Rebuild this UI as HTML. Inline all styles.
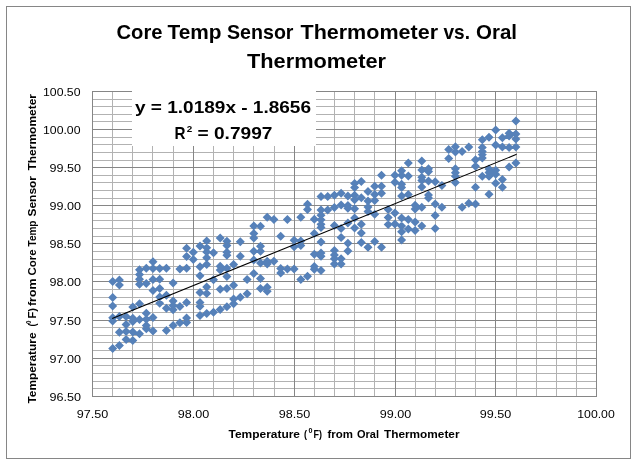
<!DOCTYPE html><html><head><meta charset="utf-8"><style>html,body{margin:0;padding:0;background:#fff;width:638px;height:464px;overflow:hidden}</style></head><body><svg width="638" height="464" viewBox="0 0 638 464" style="display:block;will-change:transform"><rect x="0" y="0" width="638" height="464" fill="#fff"/><rect x="6.5" y="6.5" width="624" height="452" fill="none" stroke="#868686" stroke-width="1"/><path d="M112.5 91V397M132.5 91V397M152.5 91V397M173.5 91V397M213.5 91V397M233.5 91V397M253.5 91V397M274.5 91V397M314.5 91V397M334.5 91V397M354.5 91V397M374.5 91V397M415.5 91V397M435.5 91V397M455.5 91V397M475.5 91V397M516.5 91V397M536.5 91V397M556.5 91V397M576.5 91V397M92 99.5H597M92 106.5H597M92 114.5H597M92 121.5H597M92 137.5H597M92 144.5H597M92 152.5H597M92 160.5H597M92 175.5H597M92 182.5H597M92 190.5H597M92 198.5H597M92 213.5H597M92 220.5H597M92 228.5H597M92 236.5H597M92 251.5H597M92 259.5H597M92 266.5H597M92 274.5H597M92 289.5H597M92 297.5H597M92 304.5H597M92 312.5H597M92 327.5H597M92 335.5H597M92 342.5H597M92 350.5H597M92 365.5H597M92 373.5H597M92 381.5H597M92 388.5H597" stroke="#b2b2b2" stroke-width="1" fill="none"/><path d="M92.5 91V397M193.5 91V397M294.5 91V397M395.5 91V397M495.5 91V397M596.5 91V397M92 91.5H597M92 129.5H597M92 167.5H597M92 205.5H597M92 243.5H597M92 281.5H597M92 320.5H597M92 358.5H597M92 396.5H597" stroke="#868686" stroke-width="1" fill="none"/><path d="M300.8 212.7l4.5 4.5l-4.5 4.5l-4.5 -4.5zM300.8 236.6l4.5 4.5l-4.5 4.5l-4.5 -4.5zM300.8 241.1l4.5 4.5l-4.5 4.5l-4.5 -4.5zM300.8 275.0l4.5 4.5l-4.5 4.5l-4.5 -4.5zM307.5 199.7l4.5 4.5l-4.5 4.5l-4.5 -4.5zM307.5 204.9l4.5 4.5l-4.5 4.5l-4.5 -4.5zM307.5 271.7l4.5 4.5l-4.5 4.5l-4.5 -4.5zM314.3 214.7l4.5 4.5l-4.5 4.5l-4.5 -4.5zM314.3 229.1l4.5 4.5l-4.5 4.5l-4.5 -4.5zM314.3 249.8l4.5 4.5l-4.5 4.5l-4.5 -4.5zM314.3 262.1l4.5 4.5l-4.5 4.5l-4.5 -4.5zM314.3 264.7l4.5 4.5l-4.5 4.5l-4.5 -4.5zM321.0 192.0l4.5 4.5l-4.5 4.5l-4.5 -4.5zM321.0 205.6l4.5 4.5l-4.5 4.5l-4.5 -4.5zM321.0 210.8l4.5 4.5l-4.5 4.5l-4.5 -4.5zM321.0 215.3l4.5 4.5l-4.5 4.5l-4.5 -4.5zM321.0 219.8l4.5 4.5l-4.5 4.5l-4.5 -4.5zM321.0 223.1l4.5 4.5l-4.5 4.5l-4.5 -4.5zM321.0 237.5l4.5 4.5l-4.5 4.5l-4.5 -4.5zM321.0 248.5l4.5 4.5l-4.5 4.5l-4.5 -4.5zM321.0 251.7l4.5 4.5l-4.5 4.5l-4.5 -4.5zM321.0 266.0l4.5 4.5l-4.5 4.5l-4.5 -4.5zM327.7 192.0l4.5 4.5l-4.5 4.5l-4.5 -4.5zM327.7 205.6l4.5 4.5l-4.5 4.5l-4.5 -4.5zM334.4 190.7l4.5 4.5l-4.5 4.5l-4.5 -4.5zM334.4 203.0l4.5 4.5l-4.5 4.5l-4.5 -4.5zM334.4 221.1l4.5 4.5l-4.5 4.5l-4.5 -4.5zM334.4 245.9l4.5 4.5l-4.5 4.5l-4.5 -4.5zM334.4 250.4l4.5 4.5l-4.5 4.5l-4.5 -4.5zM334.4 254.3l4.5 4.5l-4.5 4.5l-4.5 -4.5zM334.4 259.5l4.5 4.5l-4.5 4.5l-4.5 -4.5zM341.1 188.8l4.5 4.5l-4.5 4.5l-4.5 -4.5zM341.1 200.4l4.5 4.5l-4.5 4.5l-4.5 -4.5zM341.1 223.9l4.5 4.5l-4.5 4.5l-4.5 -4.5zM341.1 233.0l4.5 4.5l-4.5 4.5l-4.5 -4.5zM341.1 254.3l4.5 4.5l-4.5 4.5l-4.5 -4.5zM341.1 259.5l4.5 4.5l-4.5 4.5l-4.5 -4.5zM347.9 191.4l4.5 4.5l-4.5 4.5l-4.5 -4.5zM347.9 201.1l4.5 4.5l-4.5 4.5l-4.5 -4.5zM347.9 203.7l4.5 4.5l-4.5 4.5l-4.5 -4.5zM347.9 218.5l4.5 4.5l-4.5 4.5l-4.5 -4.5zM347.9 238.8l4.5 4.5l-4.5 4.5l-4.5 -4.5zM347.9 246.5l4.5 4.5l-4.5 4.5l-4.5 -4.5zM354.6 179.1l4.5 4.5l-4.5 4.5l-4.5 -4.5zM354.6 190.7l4.5 4.5l-4.5 4.5l-4.5 -4.5zM354.6 195.3l4.5 4.5l-4.5 4.5l-4.5 -4.5zM354.6 204.3l4.5 4.5l-4.5 4.5l-4.5 -4.5zM354.6 213.4l4.5 4.5l-4.5 4.5l-4.5 -4.5zM354.6 223.4l4.5 4.5l-4.5 4.5l-4.5 -4.5zM361.3 177.1l4.5 4.5l-4.5 4.5l-4.5 -4.5zM361.3 193.3l4.5 4.5l-4.5 4.5l-4.5 -4.5zM361.3 219.8l4.5 4.5l-4.5 4.5l-4.5 -4.5zM361.3 228.5l4.5 4.5l-4.5 4.5l-4.5 -4.5zM361.3 238.1l4.5 4.5l-4.5 4.5l-4.5 -4.5zM368.0 186.9l4.5 4.5l-4.5 4.5l-4.5 -4.5zM368.0 196.6l4.5 4.5l-4.5 4.5l-4.5 -4.5zM368.0 202.4l4.5 4.5l-4.5 4.5l-4.5 -4.5zM368.0 207.1l4.5 4.5l-4.5 4.5l-4.5 -4.5zM368.0 242.7l4.5 4.5l-4.5 4.5l-4.5 -4.5zM374.7 181.7l4.5 4.5l-4.5 4.5l-4.5 -4.5zM374.7 190.1l4.5 4.5l-4.5 4.5l-4.5 -4.5zM374.7 196.0l4.5 4.5l-4.5 4.5l-4.5 -4.5zM374.7 209.7l4.5 4.5l-4.5 4.5l-4.5 -4.5zM374.7 236.9l4.5 4.5l-4.5 4.5l-4.5 -4.5zM381.5 170.7l4.5 4.5l-4.5 4.5l-4.5 -4.5zM381.5 181.7l4.5 4.5l-4.5 4.5l-4.5 -4.5zM381.5 188.8l4.5 4.5l-4.5 4.5l-4.5 -4.5zM381.5 242.7l4.5 4.5l-4.5 4.5l-4.5 -4.5zM388.2 204.9l4.5 4.5l-4.5 4.5l-4.5 -4.5zM388.2 213.0l4.5 4.5l-4.5 4.5l-4.5 -4.5zM388.2 220.1l4.5 4.5l-4.5 4.5l-4.5 -4.5zM394.9 170.7l4.5 4.5l-4.5 4.5l-4.5 -4.5zM394.9 177.8l4.5 4.5l-4.5 4.5l-4.5 -4.5zM394.9 208.4l4.5 4.5l-4.5 4.5l-4.5 -4.5zM394.9 219.4l4.5 4.5l-4.5 4.5l-4.5 -4.5zM401.6 166.2l4.5 4.5l-4.5 4.5l-4.5 -4.5zM401.6 170.7l4.5 4.5l-4.5 4.5l-4.5 -4.5zM401.6 179.8l4.5 4.5l-4.5 4.5l-4.5 -4.5zM401.6 183.0l4.5 4.5l-4.5 4.5l-4.5 -4.5zM401.6 191.4l4.5 4.5l-4.5 4.5l-4.5 -4.5zM401.6 213.6l4.5 4.5l-4.5 4.5l-4.5 -4.5zM401.6 221.4l4.5 4.5l-4.5 4.5l-4.5 -4.5zM401.6 227.2l4.5 4.5l-4.5 4.5l-4.5 -4.5zM401.6 235.6l4.5 4.5l-4.5 4.5l-4.5 -4.5zM408.3 158.4l4.5 4.5l-4.5 4.5l-4.5 -4.5zM408.3 171.4l4.5 4.5l-4.5 4.5l-4.5 -4.5zM408.3 190.1l4.5 4.5l-4.5 4.5l-4.5 -4.5zM408.3 214.9l4.5 4.5l-4.5 4.5l-4.5 -4.5zM408.3 224.6l4.5 4.5l-4.5 4.5l-4.5 -4.5zM415.1 200.7l4.5 4.5l-4.5 4.5l-4.5 -4.5zM415.1 204.6l4.5 4.5l-4.5 4.5l-4.5 -4.5zM415.1 217.5l4.5 4.5l-4.5 4.5l-4.5 -4.5zM415.1 226.0l4.5 4.5l-4.5 4.5l-4.5 -4.5zM421.8 156.5l4.5 4.5l-4.5 4.5l-4.5 -4.5zM421.8 165.6l4.5 4.5l-4.5 4.5l-4.5 -4.5zM421.8 172.7l4.5 4.5l-4.5 4.5l-4.5 -4.5zM421.8 176.0l4.5 4.5l-4.5 4.5l-4.5 -4.5zM421.8 182.4l4.5 4.5l-4.5 4.5l-4.5 -4.5zM421.8 202.7l4.5 4.5l-4.5 4.5l-4.5 -4.5zM421.8 221.4l4.5 4.5l-4.5 4.5l-4.5 -4.5zM428.5 164.3l4.5 4.5l-4.5 4.5l-4.5 -4.5zM428.5 166.9l4.5 4.5l-4.5 4.5l-4.5 -4.5zM428.5 176.6l4.5 4.5l-4.5 4.5l-4.5 -4.5zM428.5 190.4l4.5 4.5l-4.5 4.5l-4.5 -4.5zM428.5 193.6l4.5 4.5l-4.5 4.5l-4.5 -4.5zM435.2 177.2l4.5 4.5l-4.5 4.5l-4.5 -4.5zM435.2 199.4l4.5 4.5l-4.5 4.5l-4.5 -4.5zM435.2 211.1l4.5 4.5l-4.5 4.5l-4.5 -4.5zM435.2 224.0l4.5 4.5l-4.5 4.5l-4.5 -4.5zM441.9 181.1l4.5 4.5l-4.5 4.5l-4.5 -4.5zM441.9 202.7l4.5 4.5l-4.5 4.5l-4.5 -4.5zM448.7 144.9l4.5 4.5l-4.5 4.5l-4.5 -4.5zM448.7 154.0l4.5 4.5l-4.5 4.5l-4.5 -4.5zM455.4 142.3l4.5 4.5l-4.5 4.5l-4.5 -4.5zM455.4 147.5l4.5 4.5l-4.5 4.5l-4.5 -4.5zM455.4 164.3l4.5 4.5l-4.5 4.5l-4.5 -4.5zM455.4 168.2l4.5 4.5l-4.5 4.5l-4.5 -4.5zM455.4 171.8l4.5 4.5l-4.5 4.5l-4.5 -4.5zM455.4 177.9l4.5 4.5l-4.5 4.5l-4.5 -4.5zM462.1 146.9l4.5 4.5l-4.5 4.5l-4.5 -4.5zM462.1 202.7l4.5 4.5l-4.5 4.5l-4.5 -4.5zM468.8 142.4l4.5 4.5l-4.5 4.5l-4.5 -4.5zM468.8 198.8l4.5 4.5l-4.5 4.5l-4.5 -4.5zM475.5 155.3l4.5 4.5l-4.5 4.5l-4.5 -4.5zM475.5 161.8l4.5 4.5l-4.5 4.5l-4.5 -4.5zM475.5 182.7l4.5 4.5l-4.5 4.5l-4.5 -4.5zM475.5 199.5l4.5 4.5l-4.5 4.5l-4.5 -4.5zM482.3 135.3l4.5 4.5l-4.5 4.5l-4.5 -4.5zM482.3 143.0l4.5 4.5l-4.5 4.5l-4.5 -4.5zM482.3 146.9l4.5 4.5l-4.5 4.5l-4.5 -4.5zM482.3 150.1l4.5 4.5l-4.5 4.5l-4.5 -4.5zM482.3 153.4l4.5 4.5l-4.5 4.5l-4.5 -4.5zM482.3 171.7l4.5 4.5l-4.5 4.5l-4.5 -4.5zM489.0 132.7l4.5 4.5l-4.5 4.5l-4.5 -4.5zM489.0 164.6l4.5 4.5l-4.5 4.5l-4.5 -4.5zM489.0 171.7l4.5 4.5l-4.5 4.5l-4.5 -4.5zM489.0 189.8l4.5 4.5l-4.5 4.5l-4.5 -4.5zM495.7 125.5l4.5 4.5l-4.5 4.5l-4.5 -4.5zM495.7 140.4l4.5 4.5l-4.5 4.5l-4.5 -4.5zM495.7 165.8l4.5 4.5l-4.5 4.5l-4.5 -4.5zM495.7 169.7l4.5 4.5l-4.5 4.5l-4.5 -4.5zM495.7 178.8l4.5 4.5l-4.5 4.5l-4.5 -4.5zM502.4 133.3l4.5 4.5l-4.5 4.5l-4.5 -4.5zM502.4 142.4l4.5 4.5l-4.5 4.5l-4.5 -4.5zM502.4 174.9l4.5 4.5l-4.5 4.5l-4.5 -4.5zM502.4 182.7l4.5 4.5l-4.5 4.5l-4.5 -4.5zM509.1 128.8l4.5 4.5l-4.5 4.5l-4.5 -4.5zM509.1 131.4l4.5 4.5l-4.5 4.5l-4.5 -4.5zM509.1 143.0l4.5 4.5l-4.5 4.5l-4.5 -4.5zM509.1 162.4l4.5 4.5l-4.5 4.5l-4.5 -4.5zM515.9 116.5l4.5 4.5l-4.5 4.5l-4.5 -4.5zM515.9 129.4l4.5 4.5l-4.5 4.5l-4.5 -4.5zM515.9 134.6l4.5 4.5l-4.5 4.5l-4.5 -4.5zM515.9 142.4l4.5 4.5l-4.5 4.5l-4.5 -4.5zM515.9 158.5l4.5 4.5l-4.5 4.5l-4.5 -4.5zM139.5 265.2l4.5 4.5l-4.5 4.5l-4.5 -4.5zM139.5 270.0l4.5 4.5l-4.5 4.5l-4.5 -4.5zM139.5 274.7l4.5 4.5l-4.5 4.5l-4.5 -4.5zM139.5 279.8l4.5 4.5l-4.5 4.5l-4.5 -4.5zM146.3 263.7l4.5 4.5l-4.5 4.5l-4.5 -4.5zM146.3 279.1l4.5 4.5l-4.5 4.5l-4.5 -4.5zM153.0 257.3l4.5 4.5l-4.5 4.5l-4.5 -4.5zM153.0 264.1l4.5 4.5l-4.5 4.5l-4.5 -4.5zM153.0 275.1l4.5 4.5l-4.5 4.5l-4.5 -4.5zM153.0 286.1l4.5 4.5l-4.5 4.5l-4.5 -4.5zM159.7 264.1l4.5 4.5l-4.5 4.5l-4.5 -4.5zM159.7 274.7l4.5 4.5l-4.5 4.5l-4.5 -4.5zM159.7 283.9l4.5 4.5l-4.5 4.5l-4.5 -4.5zM166.4 263.7l4.5 4.5l-4.5 4.5l-4.5 -4.5zM173.1 278.4l4.5 4.5l-4.5 4.5l-4.5 -4.5zM112.7 292.9l4.5 4.5l-4.5 4.5l-4.5 -4.5zM112.7 301.5l4.5 4.5l-4.5 4.5l-4.5 -4.5zM112.7 313.3l4.5 4.5l-4.5 4.5l-4.5 -4.5zM112.7 316.5l4.5 4.5l-4.5 4.5l-4.5 -4.5zM119.4 312.0l4.5 4.5l-4.5 4.5l-4.5 -4.5zM132.8 302.5l4.5 4.5l-4.5 4.5l-4.5 -4.5zM139.5 299.3l4.5 4.5l-4.5 4.5l-4.5 -4.5zM126.1 312.0l4.5 4.5l-4.5 4.5l-4.5 -4.5zM132.8 313.8l4.5 4.5l-4.5 4.5l-4.5 -4.5zM132.8 316.9l4.5 4.5l-4.5 4.5l-4.5 -4.5zM139.5 315.1l4.5 4.5l-4.5 4.5l-4.5 -4.5zM126.1 320.1l4.5 4.5l-4.5 4.5l-4.5 -4.5zM119.4 327.8l4.5 4.5l-4.5 4.5l-4.5 -4.5zM126.1 326.9l4.5 4.5l-4.5 4.5l-4.5 -4.5zM132.8 327.4l4.5 4.5l-4.5 4.5l-4.5 -4.5zM139.5 329.2l4.5 4.5l-4.5 4.5l-4.5 -4.5zM126.1 335.1l4.5 4.5l-4.5 4.5l-4.5 -4.5zM132.8 336.0l4.5 4.5l-4.5 4.5l-4.5 -4.5zM119.4 341.0l4.5 4.5l-4.5 4.5l-4.5 -4.5zM112.7 344.1l4.5 4.5l-4.5 4.5l-4.5 -4.5zM159.7 292.5l4.5 4.5l-4.5 4.5l-4.5 -4.5zM166.4 290.7l4.5 4.5l-4.5 4.5l-4.5 -4.5zM159.7 298.8l4.5 4.5l-4.5 4.5l-4.5 -4.5zM173.1 296.5l4.5 4.5l-4.5 4.5l-4.5 -4.5zM166.4 303.8l4.5 4.5l-4.5 4.5l-4.5 -4.5zM173.1 301.1l4.5 4.5l-4.5 4.5l-4.5 -4.5zM173.1 305.2l4.5 4.5l-4.5 4.5l-4.5 -4.5zM179.9 302.0l4.5 4.5l-4.5 4.5l-4.5 -4.5zM146.3 308.8l4.5 4.5l-4.5 4.5l-4.5 -4.5zM153.0 312.9l4.5 4.5l-4.5 4.5l-4.5 -4.5zM146.3 314.7l4.5 4.5l-4.5 4.5l-4.5 -4.5zM146.3 321.0l4.5 4.5l-4.5 4.5l-4.5 -4.5zM173.1 321.0l4.5 4.5l-4.5 4.5l-4.5 -4.5zM179.9 318.3l4.5 4.5l-4.5 4.5l-4.5 -4.5zM146.3 324.3l4.5 4.5l-4.5 4.5l-4.5 -4.5zM153.0 326.5l4.5 4.5l-4.5 4.5l-4.5 -4.5zM166.4 326.1l4.5 4.5l-4.5 4.5l-4.5 -4.5zM112.7 276.9l4.5 4.5l-4.5 4.5l-4.5 -4.5zM119.4 275.5l4.5 4.5l-4.5 4.5l-4.5 -4.5zM119.4 280.5l4.5 4.5l-4.5 4.5l-4.5 -4.5zM186.6 243.7l4.5 4.5l-4.5 4.5l-4.5 -4.5zM186.6 251.9l4.5 4.5l-4.5 4.5l-4.5 -4.5zM193.3 247.8l4.5 4.5l-4.5 4.5l-4.5 -4.5zM193.3 255.1l4.5 4.5l-4.5 4.5l-4.5 -4.5zM179.9 264.6l4.5 4.5l-4.5 4.5l-4.5 -4.5zM186.6 263.7l4.5 4.5l-4.5 4.5l-4.5 -4.5zM200.0 241.5l4.5 4.5l-4.5 4.5l-4.5 -4.5zM206.7 236.5l4.5 4.5l-4.5 4.5l-4.5 -4.5zM206.7 243.3l4.5 4.5l-4.5 4.5l-4.5 -4.5zM206.7 247.4l4.5 4.5l-4.5 4.5l-4.5 -4.5zM206.7 253.2l4.5 4.5l-4.5 4.5l-4.5 -4.5zM213.5 248.3l4.5 4.5l-4.5 4.5l-4.5 -4.5zM200.0 262.3l4.5 4.5l-4.5 4.5l-4.5 -4.5zM206.7 260.0l4.5 4.5l-4.5 4.5l-4.5 -4.5zM200.0 271.2l4.5 4.5l-4.5 4.5l-4.5 -4.5zM213.5 275.3l4.5 4.5l-4.5 4.5l-4.5 -4.5zM206.7 282.5l4.5 4.5l-4.5 4.5l-4.5 -4.5zM200.0 288.0l4.5 4.5l-4.5 4.5l-4.5 -4.5zM206.7 288.9l4.5 4.5l-4.5 4.5l-4.5 -4.5zM186.6 297.9l4.5 4.5l-4.5 4.5l-4.5 -4.5zM200.0 297.9l4.5 4.5l-4.5 4.5l-4.5 -4.5zM200.0 301.8l4.5 4.5l-4.5 4.5l-4.5 -4.5zM200.0 310.9l4.5 4.5l-4.5 4.5l-4.5 -4.5zM206.7 309.1l4.5 4.5l-4.5 4.5l-4.5 -4.5zM213.5 307.7l4.5 4.5l-4.5 4.5l-4.5 -4.5zM186.6 313.6l4.5 4.5l-4.5 4.5l-4.5 -4.5zM186.6 318.1l4.5 4.5l-4.5 4.5l-4.5 -4.5zM220.2 233.6l4.5 4.5l-4.5 4.5l-4.5 -4.5zM226.9 236.8l4.5 4.5l-4.5 4.5l-4.5 -4.5zM226.9 240.9l4.5 4.5l-4.5 4.5l-4.5 -4.5zM226.9 247.7l4.5 4.5l-4.5 4.5l-4.5 -4.5zM226.9 250.8l4.5 4.5l-4.5 4.5l-4.5 -4.5zM240.3 237.2l4.5 4.5l-4.5 4.5l-4.5 -4.5zM240.3 251.7l4.5 4.5l-4.5 4.5l-4.5 -4.5zM253.8 221.4l4.5 4.5l-4.5 4.5l-4.5 -4.5zM253.8 229.1l4.5 4.5l-4.5 4.5l-4.5 -4.5zM253.8 233.6l4.5 4.5l-4.5 4.5l-4.5 -4.5zM253.8 246.8l4.5 4.5l-4.5 4.5l-4.5 -4.5zM220.2 261.7l4.5 4.5l-4.5 4.5l-4.5 -4.5zM226.9 263.8l4.5 4.5l-4.5 4.5l-4.5 -4.5zM220.2 265.5l4.5 4.5l-4.5 4.5l-4.5 -4.5zM233.6 259.9l4.5 4.5l-4.5 4.5l-4.5 -4.5zM226.9 272.1l4.5 4.5l-4.5 4.5l-4.5 -4.5zM253.8 269.0l4.5 4.5l-4.5 4.5l-4.5 -4.5zM247.1 274.9l4.5 4.5l-4.5 4.5l-4.5 -4.5zM253.8 255.5l4.5 4.5l-4.5 4.5l-4.5 -4.5zM233.6 280.8l4.5 4.5l-4.5 4.5l-4.5 -4.5zM220.2 284.8l4.5 4.5l-4.5 4.5l-4.5 -4.5zM226.9 283.9l4.5 4.5l-4.5 4.5l-4.5 -4.5zM247.1 289.2l4.5 4.5l-4.5 4.5l-4.5 -4.5zM240.3 292.8l4.5 4.5l-4.5 4.5l-4.5 -4.5zM233.6 294.6l4.5 4.5l-4.5 4.5l-4.5 -4.5zM233.6 299.2l4.5 4.5l-4.5 4.5l-4.5 -4.5zM226.9 302.3l4.5 4.5l-4.5 4.5l-4.5 -4.5zM220.2 305.0l4.5 4.5l-4.5 4.5l-4.5 -4.5zM267.2 212.7l4.5 4.5l-4.5 4.5l-4.5 -4.5zM273.9 215.0l4.5 4.5l-4.5 4.5l-4.5 -4.5zM287.4 215.0l4.5 4.5l-4.5 4.5l-4.5 -4.5zM260.5 221.8l4.5 4.5l-4.5 4.5l-4.5 -4.5zM280.7 231.7l4.5 4.5l-4.5 4.5l-4.5 -4.5zM260.5 241.7l4.5 4.5l-4.5 4.5l-4.5 -4.5zM260.5 246.7l4.5 4.5l-4.5 4.5l-4.5 -4.5zM294.1 235.8l4.5 4.5l-4.5 4.5l-4.5 -4.5zM294.1 242.2l4.5 4.5l-4.5 4.5l-4.5 -4.5zM260.5 258.5l4.5 4.5l-4.5 4.5l-4.5 -4.5zM267.2 256.7l4.5 4.5l-4.5 4.5l-4.5 -4.5zM267.2 259.4l4.5 4.5l-4.5 4.5l-4.5 -4.5zM273.9 256.7l4.5 4.5l-4.5 4.5l-4.5 -4.5zM280.7 263.9l4.5 4.5l-4.5 4.5l-4.5 -4.5zM280.7 268.5l4.5 4.5l-4.5 4.5l-4.5 -4.5zM287.4 264.4l4.5 4.5l-4.5 4.5l-4.5 -4.5zM294.1 264.4l4.5 4.5l-4.5 4.5l-4.5 -4.5zM260.5 274.1l4.5 4.5l-4.5 4.5l-4.5 -4.5zM260.5 284.1l4.5 4.5l-4.5 4.5l-4.5 -4.5zM267.2 282.7l4.5 4.5l-4.5 4.5l-4.5 -4.5zM267.2 286.8l4.5 4.5l-4.5 4.5l-4.5 -4.5zM354.6 183.1l4.5 4.5l-4.5 4.5l-4.5 -4.5zM489.0 168.0l4.5 4.5l-4.5 4.5l-4.5 -4.5z" fill="#5681b9"/><line x1="112.2" y1="318.5" x2="516.6" y2="154.3" stroke="#000" stroke-width="1.1"/><rect x="132" y="88" width="184" height="58" fill="#fff"/><text font-family="Liberation Sans, sans-serif" font-weight="bold" font-size="17" x="135" y="113" textLength="176" lengthAdjust="spacingAndGlyphs">y = 1.0189x - 1.8656</text><text font-family="Liberation Sans, sans-serif" font-weight="bold" font-size="17" x="174.5" y="139" textLength="11" lengthAdjust="spacingAndGlyphs">R</text><text font-family="Liberation Sans, sans-serif" font-weight="bold" font-size="9" x="186.8" y="131.5" textLength="5.5" lengthAdjust="spacingAndGlyphs">2</text><text font-family="Liberation Sans, sans-serif" font-weight="bold" font-size="17" x="197.5" y="139" textLength="75" lengthAdjust="spacingAndGlyphs">= 0.7997</text><text font-family="Liberation Sans, sans-serif" font-weight="bold" font-size="21" x="116.5" y="39" textLength="46.0" lengthAdjust="spacingAndGlyphs">Core</text><text font-family="Liberation Sans, sans-serif" font-weight="bold" font-size="21" x="167.5" y="39" textLength="54.0" lengthAdjust="spacingAndGlyphs">Temp</text><text font-family="Liberation Sans, sans-serif" font-weight="bold" font-size="21" x="227.0" y="39" textLength="66.5" lengthAdjust="spacingAndGlyphs">Sensor</text><text font-family="Liberation Sans, sans-serif" font-weight="bold" font-size="21" x="300.5" y="39" textLength="137.5" lengthAdjust="spacingAndGlyphs">Thermometer</text><text font-family="Liberation Sans, sans-serif" font-weight="bold" font-size="21" x="443.5" y="39" textLength="26.5" lengthAdjust="spacingAndGlyphs">vs.</text><text font-family="Liberation Sans, sans-serif" font-weight="bold" font-size="21" x="476.0" y="39" textLength="41.0" lengthAdjust="spacingAndGlyphs">Oral</text><text font-family="Liberation Sans, sans-serif" font-weight="bold" font-size="21" x="247.0" y="68" textLength="139.0" lengthAdjust="spacingAndGlyphs">Thermometer</text><text font-family="Liberation Sans, sans-serif" font-weight="bold" font-size="10.5" x="228.5" y="438" textLength="71.5" lengthAdjust="spacingAndGlyphs">Temperature</text><text font-family="Liberation Sans, sans-serif" font-weight="bold" font-size="10.5" x="304.0" y="438" textLength="3.0" lengthAdjust="spacingAndGlyphs">(</text><text font-family="Liberation Sans, sans-serif" font-weight="bold" font-size="6.5" x="308.5" y="432.8" textLength="4.0" lengthAdjust="spacingAndGlyphs">0</text><text font-family="Liberation Sans, sans-serif" font-weight="bold" font-size="10.5" x="313.5" y="438" textLength="8.5" lengthAdjust="spacingAndGlyphs">F)</text><text font-family="Liberation Sans, sans-serif" font-weight="bold" font-size="10.5" x="327.5" y="438" textLength="25.5" lengthAdjust="spacingAndGlyphs">from</text><text font-family="Liberation Sans, sans-serif" font-weight="bold" font-size="10.5" x="357.0" y="438" textLength="22.0" lengthAdjust="spacingAndGlyphs">Oral</text><text font-family="Liberation Sans, sans-serif" font-weight="bold" font-size="10.5" x="384.0" y="438" textLength="75.5" lengthAdjust="spacingAndGlyphs">Thermometer</text><text font-family="Liberation Sans, sans-serif" font-weight="bold" font-size="10.5" transform="translate(36.3,403.5) rotate(-90)" x="0" y="0" textLength="71.0" lengthAdjust="spacingAndGlyphs">Temperature</text><text font-family="Liberation Sans, sans-serif" font-weight="bold" font-size="10.5" transform="translate(36.3,326.5) rotate(-90)" x="0" y="0" textLength="3.0" lengthAdjust="spacingAndGlyphs">(</text><text font-family="Liberation Sans, sans-serif" font-weight="bold" font-size="6.5" transform="translate(30.8,324.0) rotate(-90)" x="0" y="0" textLength="3.5" lengthAdjust="spacingAndGlyphs">0</text><text font-family="Liberation Sans, sans-serif" font-weight="bold" font-size="10.5" transform="translate(36.3,318.5) rotate(-90)" x="0" y="0" textLength="10.5" lengthAdjust="spacingAndGlyphs">F)</text><text font-family="Liberation Sans, sans-serif" font-weight="bold" font-size="10.5" transform="translate(36.3,306.0) rotate(-90)" x="0" y="0" textLength="27.5" lengthAdjust="spacingAndGlyphs">from</text><text font-family="Liberation Sans, sans-serif" font-weight="bold" font-size="10.5" transform="translate(36.3,275.5) rotate(-90)" x="0" y="0" textLength="26.0" lengthAdjust="spacingAndGlyphs">Core</text><text font-family="Liberation Sans, sans-serif" font-weight="bold" font-size="10.5" transform="translate(36.3,246.5) rotate(-90)" x="0" y="0" textLength="26.0" lengthAdjust="spacingAndGlyphs">Temp</text><text font-family="Liberation Sans, sans-serif" font-weight="bold" font-size="10.5" transform="translate(36.3,216.5) rotate(-90)" x="0" y="0" textLength="40.5" lengthAdjust="spacingAndGlyphs">Sensor</text><text font-family="Liberation Sans, sans-serif" font-weight="bold" font-size="10.5" transform="translate(36.3,170.5) rotate(-90)" x="0" y="0" textLength="76.5" lengthAdjust="spacingAndGlyphs">Thermometer</text><text font-family="Liberation Sans, sans-serif" font-size="11" x="43" y="95.5" textLength="37.5" lengthAdjust="spacingAndGlyphs" fill="#000">100.50</text><text font-family="Liberation Sans, sans-serif" font-size="11" x="43" y="133.5" textLength="37.5" lengthAdjust="spacingAndGlyphs" fill="#000">100.00</text><text font-family="Liberation Sans, sans-serif" font-size="11" x="49.5" y="171.5" textLength="31.5" lengthAdjust="spacingAndGlyphs" fill="#000">99.50</text><text font-family="Liberation Sans, sans-serif" font-size="11" x="49.5" y="209.5" textLength="31.5" lengthAdjust="spacingAndGlyphs" fill="#000">99.00</text><text font-family="Liberation Sans, sans-serif" font-size="11" x="49.5" y="247.5" textLength="31.5" lengthAdjust="spacingAndGlyphs" fill="#000">98.50</text><text font-family="Liberation Sans, sans-serif" font-size="11" x="49.5" y="285.5" textLength="31.5" lengthAdjust="spacingAndGlyphs" fill="#000">98.00</text><text font-family="Liberation Sans, sans-serif" font-size="11" x="49.5" y="324.5" textLength="31.5" lengthAdjust="spacingAndGlyphs" fill="#000">97.50</text><text font-family="Liberation Sans, sans-serif" font-size="11" x="49.5" y="362.5" textLength="31.5" lengthAdjust="spacingAndGlyphs" fill="#000">97.00</text><text font-family="Liberation Sans, sans-serif" font-size="11" x="49.5" y="400.5" textLength="31.5" lengthAdjust="spacingAndGlyphs" fill="#000">96.50</text><text font-family="Liberation Sans, sans-serif" font-size="11" x="76.75" y="418" textLength="31.5" lengthAdjust="spacingAndGlyphs" fill="#000">97.50</text><text font-family="Liberation Sans, sans-serif" font-size="11" x="177.75" y="418" textLength="31.5" lengthAdjust="spacingAndGlyphs" fill="#000">98.00</text><text font-family="Liberation Sans, sans-serif" font-size="11" x="278.75" y="418" textLength="31.5" lengthAdjust="spacingAndGlyphs" fill="#000">98.50</text><text font-family="Liberation Sans, sans-serif" font-size="11" x="379.75" y="418" textLength="31.5" lengthAdjust="spacingAndGlyphs" fill="#000">99.00</text><text font-family="Liberation Sans, sans-serif" font-size="11" x="479.75" y="418" textLength="31.5" lengthAdjust="spacingAndGlyphs" fill="#000">99.50</text><text font-family="Liberation Sans, sans-serif" font-size="11" x="577.25" y="418" textLength="37.5" lengthAdjust="spacingAndGlyphs" fill="#000">100.00</text></svg></body></html>
